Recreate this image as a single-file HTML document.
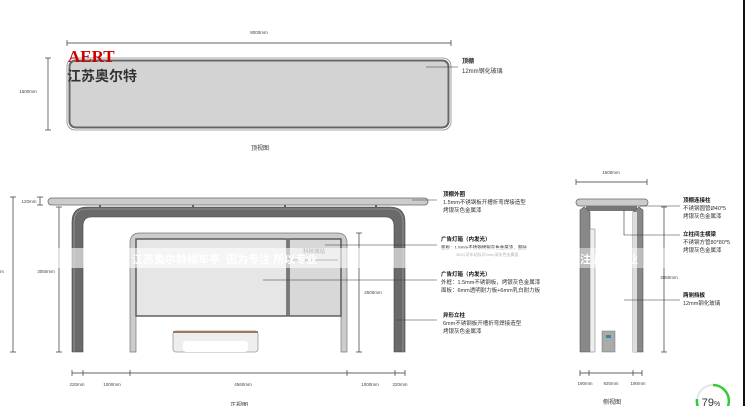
<!DOCTYPE html>
<html><head><meta charset="utf-8"><style>
html,body{margin:0;padding:0;background:#fff;}
svg{display:block;font-family:"Liberation Sans","Noto Sans CJK SC",sans-serif;}
</style></head><body>
<svg width="750" height="406" viewBox="0 0 750 406" xmlns="http://www.w3.org/2000/svg">
<rect width="750" height="406" fill="#fff"/>
<!-- TOP VIEW -->
<g stroke="#333" stroke-width="0.7" fill="none">
<line x1="67" y1="43" x2="451" y2="43"/><line x1="67" y1="40" x2="67" y2="46"/><line x1="451" y1="40" x2="451" y2="46"/>
<line x1="48" y1="58" x2="48" y2="130"/><line x1="45" y1="58" x2="51" y2="58"/><line x1="45" y1="130" x2="51" y2="130"/>
</g>
<text x="259" y="34" font-size="4.5" fill="#444" text-anchor="middle">8000mm</text>
<text x="28" y="93" font-size="4.5" fill="#444" text-anchor="middle">1500mm</text>
<rect x="67" y="58" width="384" height="72" rx="8" fill="#fff" stroke="#888" stroke-width="0.8"/>
<rect x="69.5" y="60.5" width="379" height="67" rx="6" fill="#d3d3d3" stroke="#666" stroke-width="2"/>
<text x="68" y="62" font-size="17" font-weight="bold" fill="#c00" font-family="Liberation Serif,serif">AERT</text>
<text x="67" y="81" font-size="14" font-weight="bold" fill="#333">江苏奥尔特</text>
<line x1="426" y1="67" x2="458" y2="67" stroke="#333" stroke-width="0.6"/>
<text x="462" y="63" font-size="6" font-weight="bold" fill="#222">顶棚</text>
<text x="462" y="73" font-size="6" fill="#333">12mm钢化玻璃</text>
<text x="260" y="150" font-size="6" fill="#333" text-anchor="middle">顶视图</text>

<!-- FRONT VIEW -->
<rect x="48" y="198" width="380" height="7" rx="3.5" fill="#ccc" stroke="#666" stroke-width="0.8"/>
<g fill="#666"><rect x="99" y="205" width="2" height="3"/><rect x="192" y="205" width="2" height="3"/><rect x="284" y="205" width="2" height="3"/><rect x="375" y="205" width="2" height="3"/></g>
<path d="M72 352 V222 Q72 207 87 207 H390 Q405 207 405 222 V352 H394 V226 Q394 217 385 217 H92 Q83 217 83 226 V352 Z" fill="#6a6a6a" stroke="#444" stroke-width="0.6"/>
<path d="M74 352 V222 Q74 209 87 209 H390 Q403 209 403 222 V352" fill="none" stroke="#aaa" stroke-width="0.6"/>
<!-- ad box -->
<path d="M130 352 V243 Q130 233 140 233 H337 Q347 233 347 243 V352 H341 V316 H136 V352 Z" fill="#ccc" stroke="#777" stroke-width="0.7"/>
<rect x="136" y="239" width="151" height="77" fill="#e6e6e6" stroke="#555" stroke-width="1.4"/>
<rect x="289" y="239" width="52" height="77" fill="#d8d8d8" stroke="#555" stroke-width="1.4"/>
<line x1="292" y1="260" x2="338" y2="260" stroke="#555" stroke-width="1"/>
<text x="314" y="253" font-size="5.5" fill="#444" text-anchor="middle">科技城站</text>
<!-- bench -->
<rect x="173" y="331" width="85" height="21" rx="3" fill="#eee" stroke="#999" stroke-width="0.8"/>
<rect x="173" y="331" width="85" height="2" fill="#a07858"/>
<rect x="183" y="341" width="65" height="11" rx="3" fill="#fff"/>
<!-- dims front -->
<g stroke="#333" stroke-width="0.7" fill="none">
<line x1="13" y1="197" x2="13" y2="352"/><line x1="10" y1="197" x2="16" y2="197"/><line x1="10" y1="352" x2="16" y2="352"/>
<line x1="59" y1="207" x2="59" y2="352"/><line x1="56" y1="207" x2="62" y2="207"/><line x1="56" y1="352" x2="62" y2="352"/>
<line x1="40" y1="197" x2="40" y2="205"/><line x1="37" y1="197" x2="43" y2="197"/><line x1="37" y1="205" x2="43" y2="205"/>
<line x1="359" y1="233" x2="359" y2="352"/><line x1="356" y1="233" x2="362" y2="233"/><line x1="356" y1="352" x2="362" y2="352"/>
<line x1="72" y1="373" x2="405" y2="373"/>
<line x1="72" y1="370" x2="72" y2="376"/><line x1="83" y1="370" x2="83" y2="376"/><line x1="130" y1="370" x2="130" y2="376"/><line x1="347" y1="370" x2="347" y2="376"/><line x1="395" y1="370" x2="395" y2="376"/><line x1="405" y1="370" x2="405" y2="376"/>
</g>
<g font-size="4.5" fill="#444" text-anchor="middle">
<text x="29" y="203">120mm</text>
<text x="46" y="273">3050mm</text>
<text x="373" y="294">2500mm</text>
<text x="2" y="273">m</text>
<text x="77" y="386">220mm</text><text x="112" y="386">1000mm</text><text x="243" y="386">4560mm</text><text x="370" y="386">1000mm</text><text x="400" y="386">220mm</text>
</g>
<text x="239" y="407" font-size="6" fill="#333" text-anchor="middle">正视图</text>
<!-- leaders -->
<g stroke="#333" stroke-width="0.6">
<line x1="412" y1="200" x2="437" y2="200"/>
<line x1="325" y1="245" x2="437" y2="245"/>
<line x1="263" y1="280" x2="437" y2="280"/>
<line x1="396" y1="320" x2="437" y2="320"/>
</g>
<g font-size="5.5" fill="#333">
<text x="443" y="196" font-weight="bold" fill="#111">顶棚外圈</text>
<text x="443" y="204">1.5mm不锈钢板开槽折弯焊接造型</text>
<text x="443" y="212">烤银灰色金属漆</text>
<text x="441" y="241" font-weight="bold" fill="#111">广告灯箱（内发光）</text>
<text x="441" y="249" font-size="4.5">面板：1.5mm不锈钢烤银灰色金属漆，面贴</text>
<text x="456" y="256" font-size="4">3M公司车站标识5mm深灰色金属面</text>
<text x="441" y="276" font-weight="bold" fill="#111">广告灯箱（内发光）</text>
<text x="441" y="284">外框：1.5mm不锈钢板，烤银灰色金属漆</text>
<text x="441" y="292">面板：6mm透明耐力板+6mm乳白耐力板</text>
<text x="443" y="317" font-weight="bold" fill="#111">异形立柱</text>
<text x="443" y="325">6mm不锈钢板开槽折弯焊接造型</text>
<text x="443" y="333">烤银灰色金属漆</text>
</g>

<!-- SIDE VIEW -->
<g stroke="#333" stroke-width="0.7">
<line x1="576" y1="182" x2="647" y2="182"/><line x1="576" y1="179" x2="576" y2="185"/><line x1="647" y1="179" x2="647" y2="185"/>
<line x1="664" y1="207" x2="664" y2="352"/><line x1="661" y1="207" x2="667" y2="207"/><line x1="661" y1="352" x2="667" y2="352"/>
<line x1="580" y1="373" x2="642" y2="373"/>
<line x1="580" y1="370" x2="580" y2="376"/><line x1="589" y1="370" x2="589" y2="376"/><line x1="633" y1="370" x2="633" y2="376"/><line x1="642" y1="370" x2="642" y2="376"/>
</g>
<text x="611" y="174" font-size="4.5" fill="#444" text-anchor="middle">1500mm</text>
<text x="669" y="279" font-size="4.5" fill="#444" text-anchor="middle">3050mm</text>
<g font-size="4.5" fill="#444" text-anchor="middle"><text x="585" y="385">190mm</text><text x="611" y="385">920mm</text><text x="638" y="385">190mm</text></g>
<text x="612" y="404" font-size="6" fill="#333" text-anchor="middle">侧视图</text>
<rect x="576" y="199" width="72" height="7" rx="3.5" fill="#ccc" stroke="#666" stroke-width="0.8"/>
<rect x="586" y="206" width="51" height="5" fill="#777"/>
<path d="M580 352 V210 L584 207 L590 212 V352 Z" fill="#888" stroke="#555" stroke-width="0.6"/>
<rect x="590" y="229" width="5" height="123" fill="#eee" stroke="#888" stroke-width="0.6"/>
<path d="M643 352 V210 L639 207 L633 212 V352 Z" fill="#888" stroke="#555" stroke-width="0.6"/>
<rect x="633" y="212" width="4" height="140" fill="#ddd"/>
<rect x="602" y="331" width="13" height="21" fill="#aaa" stroke="#777" stroke-width="0.5"/>
<rect x="606" y="335" width="5" height="3" fill="#38a"/>
<g stroke="#333" stroke-width="0.6" fill="none">
<line x1="640" y1="206" x2="680" y2="206"/>
<polyline points="624,210 624,235 680,235"/>
<line x1="624" y1="300" x2="680" y2="300"/>
</g>
<g font-size="5.5" fill="#333">
<text x="683" y="202" font-weight="bold" fill="#111">顶棚连接柱</text>
<text x="683" y="210">不锈钢圆管Ø40*5</text>
<text x="683" y="218">烤银灰色金属漆</text>
<text x="683" y="236" font-weight="bold" fill="#111">立柱间主横梁</text>
<text x="683" y="244">不锈钢方管80*80*5</text>
<text x="683" y="252">烤银灰色金属漆</text>
<text x="683" y="297" font-weight="bold" fill="#111">两侧挡板</text>
<text x="683" y="305">12mm钢化玻璃</text>
</g>

<!-- watermark band -->
<rect x="21" y="248" width="539" height="20" fill="#fff" opacity="0.6"/>
<rect x="560" y="248" width="105" height="20" fill="#fff" opacity="0.45"/>
<text x="132" y="263" font-size="11" font-weight="bold" fill="#fff">江苏奥尔特候车亭&#160;&#160;因为专注 所以专业</text>
<text x="580" y="263" font-size="11" font-weight="bold" fill="#fff">注 所以专业</text>

<!-- right edge line & badge -->
<rect x="743" y="0" width="2" height="406" fill="#111"/>
<circle cx="713" cy="401" r="16" fill="#fff" stroke="#e6e6e6" stroke-width="2"/>
<path d="M713 385 A16 16 0 1 1 697 399" fill="none" stroke="#3c3" stroke-width="2.5"/>
<text x="711" y="406" font-size="11" fill="#333" text-anchor="middle">79<tspan font-size="7">%</tspan></text>
</svg>
</body></html>
